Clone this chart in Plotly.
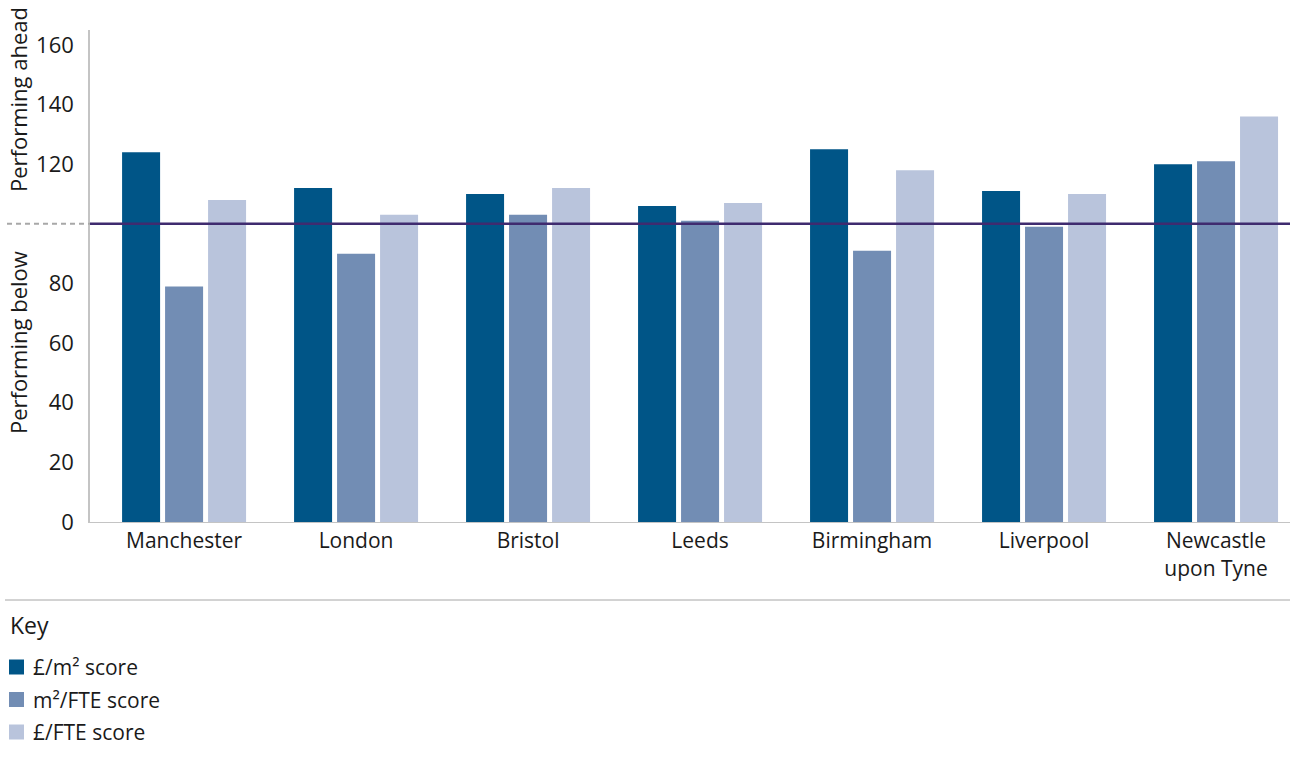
import plotly.graph_objects as go

cities = ["Manchester", "London", "Bristol", "Leeds", "Birmingham", "Liverpool", "Newcastle<br>upon Tyne"]
gbp_per_m2 = [124, 112, 110, 106, 125, 111, 120]
m2_per_fte = [79, 90, 103, 101, 91, 99, 121]
gbp_per_fte = [108, 103, 112, 107, 118, 110, 136]

series_names = ["£/m² score", "m²/FTE score", "£/FTE score"]
series_colors = ["#005587", "#728db4", "#b9c4dc"]
y_ticks = [0, 20, 40, 60, 80, 120, 140, 160]
benchmark = 100

FONT = "Open Sans"
TEXT = "#1a1a1a"

W, H = 1290, 758
M_L, M_R, M_T, M_B = 90, 0, 30, 236
PW, PH = W - M_L - M_R, H - M_T - M_B


def px_x(p):
    """pixel column -> paper x"""
    return (p - M_L) / PW


def px_y(p):
    """pixel row -> paper y"""
    return (H - M_B - p) / PH


fig = go.Figure()
for name, vals, col in zip(series_names, [gbp_per_m2, m2_per_fte, gbp_per_fte], series_colors):
    fig.add_trace(go.Bar(
        x=cities, y=vals, name=name, marker=dict(color=col, line=dict(width=0)),
        showlegend=False, hoverinfo="x+y+name",
    ))

# benchmark line across the plot, with a dashed lead-in to the left of the axis
fig.add_shape(type="line", xref="paper", yref="y", x0=0, x1=1, y0=benchmark, y1=benchmark,
              line=dict(color="#3f2b6f", width=2.5), layer="above")
fig.add_shape(type="line", xref="paper", yref="y", x0=px_x(7), x1=0, y0=benchmark, y1=benchmark,
              line=dict(color="#a8a8a8", width=2, dash="5px,4px"), layer="above")

# rule between chart and key
fig.add_shape(type="line", xref="paper", yref="paper", x0=px_x(5), x1=1, y0=px_y(600), y1=px_y(600),
              line=dict(color="#a6a6a6", width=1))

for txt, yv in [("Performing ahead", 141.5), ("Performing below", 60)]:
    fig.add_annotation(text=txt, xref="paper", yref="y", x=px_x(18), y=yv, textangle=-90,
                       showarrow=False, font=dict(family=FONT, size=22, color=TEXT),
                       xanchor="center", yanchor="middle")

# key
fig.add_annotation(text="Key", xref="paper", yref="paper", x=px_x(8), y=px_y(625),
                   xanchor="left", yanchor="middle", showarrow=False,
                   font=dict(family=FONT, size=23, color=TEXT))
for i, (name, col) in enumerate(zip(series_names, series_colors)):
    cy = 667 + i * 32.5
    fig.add_shape(type="rect", xref="paper", yref="paper",
                  x0=px_x(9), x1=px_x(24), y0=px_y(cy + 7.5), y1=px_y(cy - 7.5),
                  fillcolor=col, line=dict(width=0))
    fig.add_annotation(text=name, xref="paper", yref="paper", x=px_x(31), y=px_y(cy),
                       xanchor="left", yanchor="middle", showarrow=False,
                       font=dict(family=FONT, size=21, color=TEXT))

fig.update_layout(
    width=W, height=H,
    margin=dict(l=M_L, r=M_R, t=M_T, b=M_B),
    plot_bgcolor="white", paper_bgcolor="white",
    barmode="group", bargap=0.25, bargroupgap=0.116,
    font=dict(family=FONT, color=TEXT),
    showlegend=False,
    xaxis=dict(range=[-0.547, 6.43], showgrid=False, showline=True, linecolor="#c4c4c4", linewidth=1,
               ticks="", tickfont=dict(size=21, color=TEXT), fixedrange=True),
    yaxis=dict(range=[0, 165], tickvals=y_ticks, showgrid=False, zeroline=False, showline=True,
               linecolor="#c4c4c4", linewidth=1.5, ticks="", ticklabelstandoff=10,
               tickfont=dict(size=22, color=TEXT)),
)

fig.write_html("out.html")
